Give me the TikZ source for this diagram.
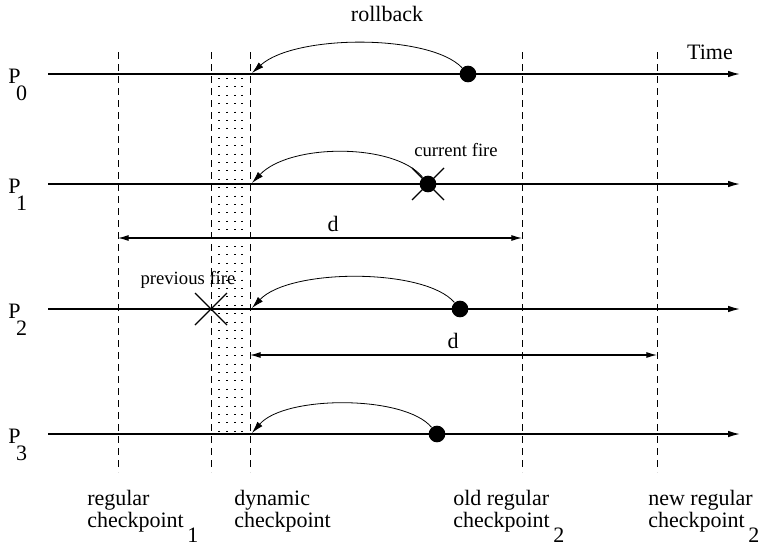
\documentclass[tikz,border=0pt]{standalone}
\usepackage{fontspec}
\setmainfont{Liberation Serif}
\usetikzlibrary{arrows.meta}
\begin{document}
\begin{tikzpicture}[x=0.75pt,y=-0.75pt,
  big/.style={font=\fontsize{16.5pt}{13.5pt}\selectfont, inner sep=0pt},
  small/.style={font=\fontsize{14pt}{14pt}\selectfont, inner sep=0pt},
  timeline/.style={line width=1.1pt, -{Latex[length=9pt,width=5pt]}},
  arcarrow/.style={line width=0.6pt, -{Latex[length=9pt,width=5pt]}},
  darrow/.style={line width=0.8pt, {Latex[length=8pt,width=4.5pt]}-{Latex[length=8pt,width=4.5pt]}},
  chk/.style={line width=0.7pt, dash pattern=on 5.5pt off 3.5pt},
  dots/.style={line width=0.9pt, dash pattern=on 0.8pt off 5.5pt},
  ball/.style={circle, fill=black, inner sep=0pt, minimum size=12.5pt},
  crossline/.style={line width=1pt}]
\useasboundingbox (0,0) rectangle (760,546);

% timelines
\coordinate (s0) at (48,74);  \coordinate (e0) at (740,74);
\coordinate (s1) at (48,184); \coordinate (e1) at (740,184);
\coordinate (s2) at (48,309); \coordinate (e2) at (740,309);
\coordinate (s3) at (48,434); \coordinate (e3) at (740,434);
\draw[timeline] (s0) -- (e0);
\draw[timeline] (s1) -- (e1);
\draw[timeline] (s2) -- (e2);
\draw[timeline] (s3) -- (e3);

% process labels
\node[big, anchor=base west] (p0) at (8,83) {P\kern-0.2em\raisebox{-0.8em}{0}};
\node[big, anchor=base west] (p1) at (8,193) {P\kern-0.2em\raisebox{-0.8em}{1}};
\node[big, anchor=base west] (p2) at (8,318) {P\kern-0.2em\raisebox{-0.8em}{2}};
\node[big, anchor=base west] (p3) at (8,443) {P\kern-0.2em\raisebox{-0.8em}{3}};

% checkpoint lines
\foreach \n/\x in {r1/118, pc/211, dc/250, or2/522, nr2/657} {
  \coordinate (\n t) at (\x,52);
  \coordinate (\n b) at (\x,472);
  \draw[chk] (\n t) -- (\n b);
}
% dotted region
\foreach \n/\x in {q1/219, q2/227, q3/235, q4/242} {
  \coordinate (\n t) at (\x,78);
  \coordinate (\n b) at (\x,432);
  \draw[dots] (\n t) -- (\n b);
}

% failure points
\node[ball] (b0) at (468,74) {};
\node[ball] (b1) at (428,184) {};
\node[ball] (b2) at (460,309) {};
\node[ball] (b3) at (437,434) {};
\coordinate (a0) at (252,73);
\coordinate (a1) at (252,183);
\coordinate (a2) at (252,308);
\coordinate (a3) at (252,433);
\draw[arcarrow] (b0) .. controls (430,34) and (295,34) .. (a0);
\draw[arcarrow] (b1) .. controls (395,143) and (290,143) .. (a1);
\draw[arcarrow] (b2) .. controls (425,268) and (290,268) .. (a2);
\draw[arcarrow] (b3) .. controls (405,395) and (285,395) .. (a3);

% crosses
\draw[crossline] ([shift={(-16,-16)}]b1.center) -- ([shift={(16,16)}]b1.center);
\draw[crossline] ([shift={(-16,16)}]b1.center) -- ([shift={(16,-16)}]b1.center);
\coordinate (pf) at (211,309);
\draw[crossline] ([shift={(-16,-16)}]pf) -- ([shift={(16,16)}]pf);
\draw[crossline] ([shift={(-16,16)}]pf) -- ([shift={(16,-16)}]pf);

% distance arrows
\coordinate (dA1) at (118,238); \coordinate (dA2) at (522,238);
\coordinate (dB1) at (250,355); \coordinate (dB2) at (657,355);
\draw[darrow] (dA1) -- (dA2);
\draw[darrow] (dB1) -- (dB2);
\node[big] (dl1) at (333,224) {d};
\node[big] (dl2) at (453,341) {d};

% texts
\node[big] (rb) at (387,14) {rollback};
\node[big] (tm) at (710,52) {Time};
\node[small] (cf) at (456,150) {current fire};
\node[small] (pfl) at (188,280) {previous fire};

\node[big, anchor=base west, align=left] (l1) at (87,527) {regular\\[0pt]checkpoint\,\raisebox{-0.7em}{1}};
\node[big, anchor=base west, align=left] (l2) at (234,527) {dynamic\\[0pt]checkpoint};
\node[big, anchor=base west, align=left] (l3) at (453,527) {old regular\\[0pt]checkpoint\,\raisebox{-0.7em}{2}};
\node[big, anchor=base west, align=left] (l4) at (648,527) {new regular\\[0pt]checkpoint\,\raisebox{-0.7em}{2}};
\end{tikzpicture}
\end{document}
